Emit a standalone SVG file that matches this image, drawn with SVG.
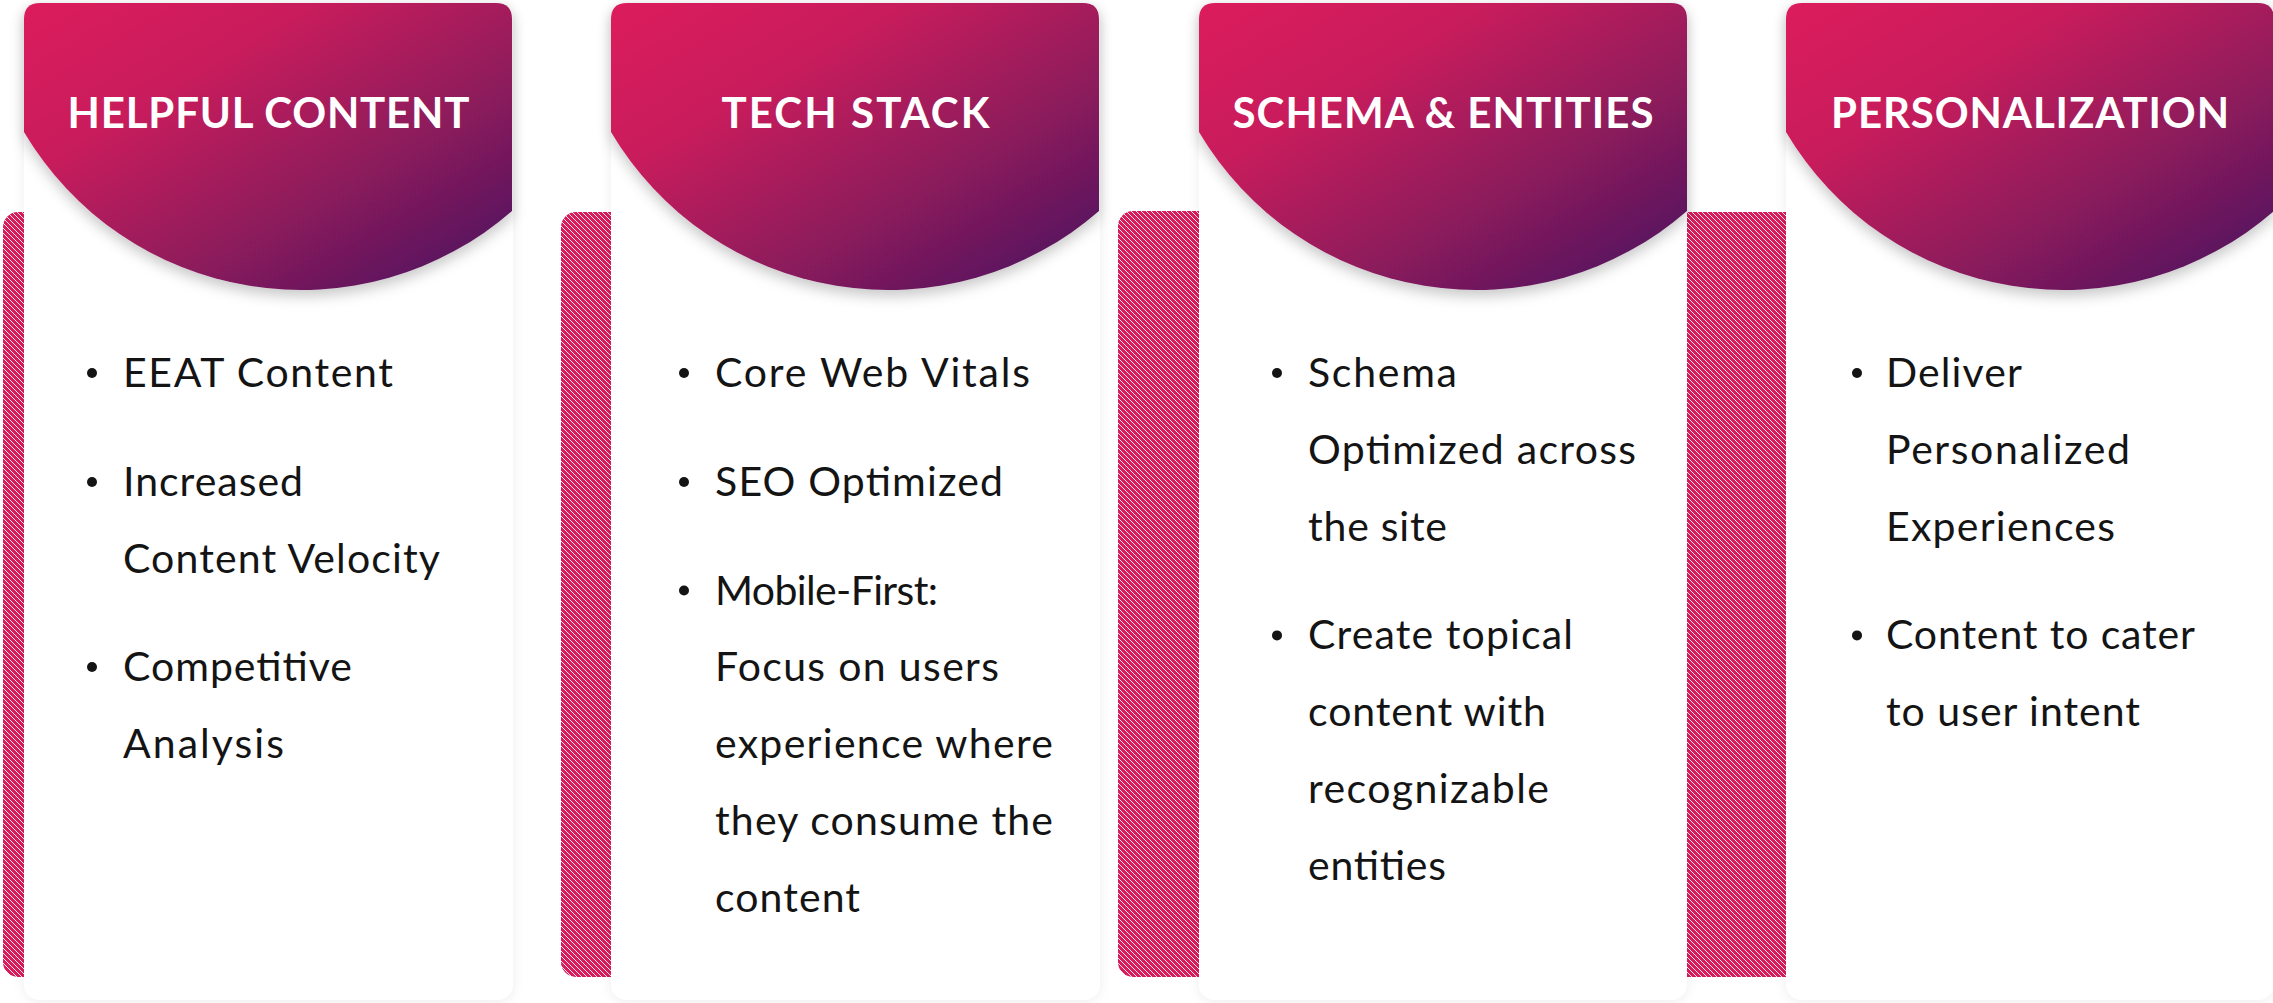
<svg xmlns="http://www.w3.org/2000/svg" width="2273" height="1003" viewBox="0 0 2273 1003">
<defs>
  <style>
    .body{font-family:Lato,"Noto Sans","Liberation Sans",sans-serif;font-size:41px;fill:#141414;}
    .head{font-family:Lato,"Noto Sans","Liberation Sans",sans-serif;font-size:42px;font-weight:700;fill:#ffffff;text-anchor:middle;}
    .card{fill:#ffffff;filter:url(#cardShadow);}
    .hdr{fill:url(#hdrGrad);filter:url(#hdrShadow);}
    .bar{fill:url(#stripes);}
    .dot{fill:#141414;}
  </style>
  <pattern id="stripes" patternUnits="userSpaceOnUse" width="5" height="5">
    <rect width="5" height="5" fill="#d81b5a"/>
    <path d="M-1,-1 L6,6 M-1,4 L1,6 M4,-1 L6,1" stroke="#ffffff" stroke-width="0.9"/>
  </pattern>
  <linearGradient id="hdrGrad" x1="0" y1="0" x2="1" y2="1">
    <stop offset="0" stop-color="#dc1c5c"/>
    <stop offset="0.3" stop-color="#c81b5b"/>
    <stop offset="0.65" stop-color="#8a1a5c"/>
    <stop offset="1" stop-color="#46175f"/>
  </linearGradient>
  <filter id="cardShadow" x="-10%" y="-5%" width="120%" height="110%">
    <feDropShadow dx="0" dy="2" stdDeviation="6" flood-color="#000000" flood-opacity="0.07"/>
  </filter>
  <filter id="hdrShadow" x="-10%" y="-10%" width="120%" height="130%">
    <feDropShadow dx="0" dy="6" stdDeviation="7" flood-color="#000000" flood-opacity="0.22"/>
  </filter>
  <path id="hdrShape" d="M0,132 L0,19 Q0,3 16,3 L472,3 Q488,3 488,19 L488,211 A321.6,321.6 0 0 1 0,132 Z"/>
</defs>

<g id="connectors"></g>

<g id="bars">
  <rect class="bar" x="3" y="212" width="40" height="765" rx="15"/>
  <rect class="bar" x="561" y="212" width="70" height="765" rx="15"/>
  <rect class="bar" x="1118" y="211" width="100" height="766" rx="15"/>
  <rect class="bar" x="1687" y="212" width="120" height="765"/>
</g>

<g id="node-helpful-content">
  <rect class="card" x="24" y="3" width="489" height="997" rx="16"/>
  <use href="#hdrShape" class="hdr" transform="translate(24,0)"/>
  <text class="head" x="268.5" y="128" textLength="402">HELPFUL CONTENT</text>
  <circle class="dot" cx="92" cy="373" r="5"/>
  <circle class="dot" cx="92" cy="482" r="5"/>
  <circle class="dot" cx="92" cy="667" r="5"/>
  <text class="body" x="123" y="387" textLength="270">EEAT Content</text>
  <text class="body" x="123" y="496" textLength="180">Increased</text>
  <text class="body" x="123" y="572.6" textLength="317">Content Velocity</text>
  <text class="body" x="123" y="681.3" textLength="229">Competitive</text>
  <text class="body" x="123" y="758.1" textLength="161">Analysis</text>
</g>

<g id="node-tech-stack">
  <rect class="card" x="611" y="3" width="489" height="997" rx="16"/>
  <use href="#hdrShape" class="hdr" transform="translate(611,0)"/>
  <text class="head" x="855.5" y="128" textLength="268">TECH STACK</text>
  <circle class="dot" cx="684" cy="373" r="5"/>
  <circle class="dot" cx="684" cy="482" r="5"/>
  <circle class="dot" cx="684" cy="590.5" r="5"/>
  <text class="body" x="715" y="387" textLength="315">Core Web Vitals</text>
  <text class="body" x="715" y="496" textLength="288">SEO Optimized</text>
  <text class="body" x="715" y="604.5" textLength="223">Mobile-First:</text>
  <text class="body" x="715" y="681.3" textLength="284">Focus on users</text>
  <text class="body" x="715" y="758.1" textLength="338">experience where</text>
  <text class="body" x="715" y="835" textLength="338">they consume the</text>
  <text class="body" x="715" y="911.8" textLength="145">content</text>
</g>

<g id="node-schema-entities">
  <rect class="card" x="1199" y="3" width="488" height="997" rx="16"/>
  <use href="#hdrShape" class="hdr" transform="translate(1199,0)"/>
  <text class="head" x="1443" y="128" textLength="421">SCHEMA &amp; ENTITIES</text>
  <circle class="dot" cx="1277" cy="373" r="5"/>
  <circle class="dot" cx="1277" cy="635.4" r="5"/>
  <text class="body" x="1308" y="387" textLength="149">Schema</text>
  <text class="body" x="1308" y="463.9" textLength="328">Optimized across</text>
  <text class="body" x="1308" y="540.7" textLength="139">the site</text>
  <text class="body" x="1308" y="649.4" textLength="265">Create topical</text>
  <text class="body" x="1308" y="726.3" textLength="238">content with</text>
  <text class="body" x="1308" y="803.1" textLength="241">recognizable</text>
  <text class="body" x="1308" y="879.9" textLength="138">entities</text>
</g>

<g id="node-personalization">
  <rect class="card" x="1786" y="3" width="488" height="997" rx="16"/>
  <use href="#hdrShape" class="hdr" transform="translate(1786,0)"/>
  <text class="head" x="2030" y="128" textLength="398">PERSONALIZATION</text>
  <circle class="dot" cx="1857" cy="373" r="5"/>
  <circle class="dot" cx="1857" cy="635.4" r="5"/>
  <text class="body" x="1886" y="387" textLength="136">Deliver</text>
  <text class="body" x="1886" y="463.9" textLength="244">Personalized</text>
  <text class="body" x="1886" y="540.7" textLength="229">Experiences</text>
  <text class="body" x="1886" y="649.4" textLength="309">Content to cater</text>
  <text class="body" x="1886" y="726.3" textLength="254">to user intent</text>
</g>
</svg>
